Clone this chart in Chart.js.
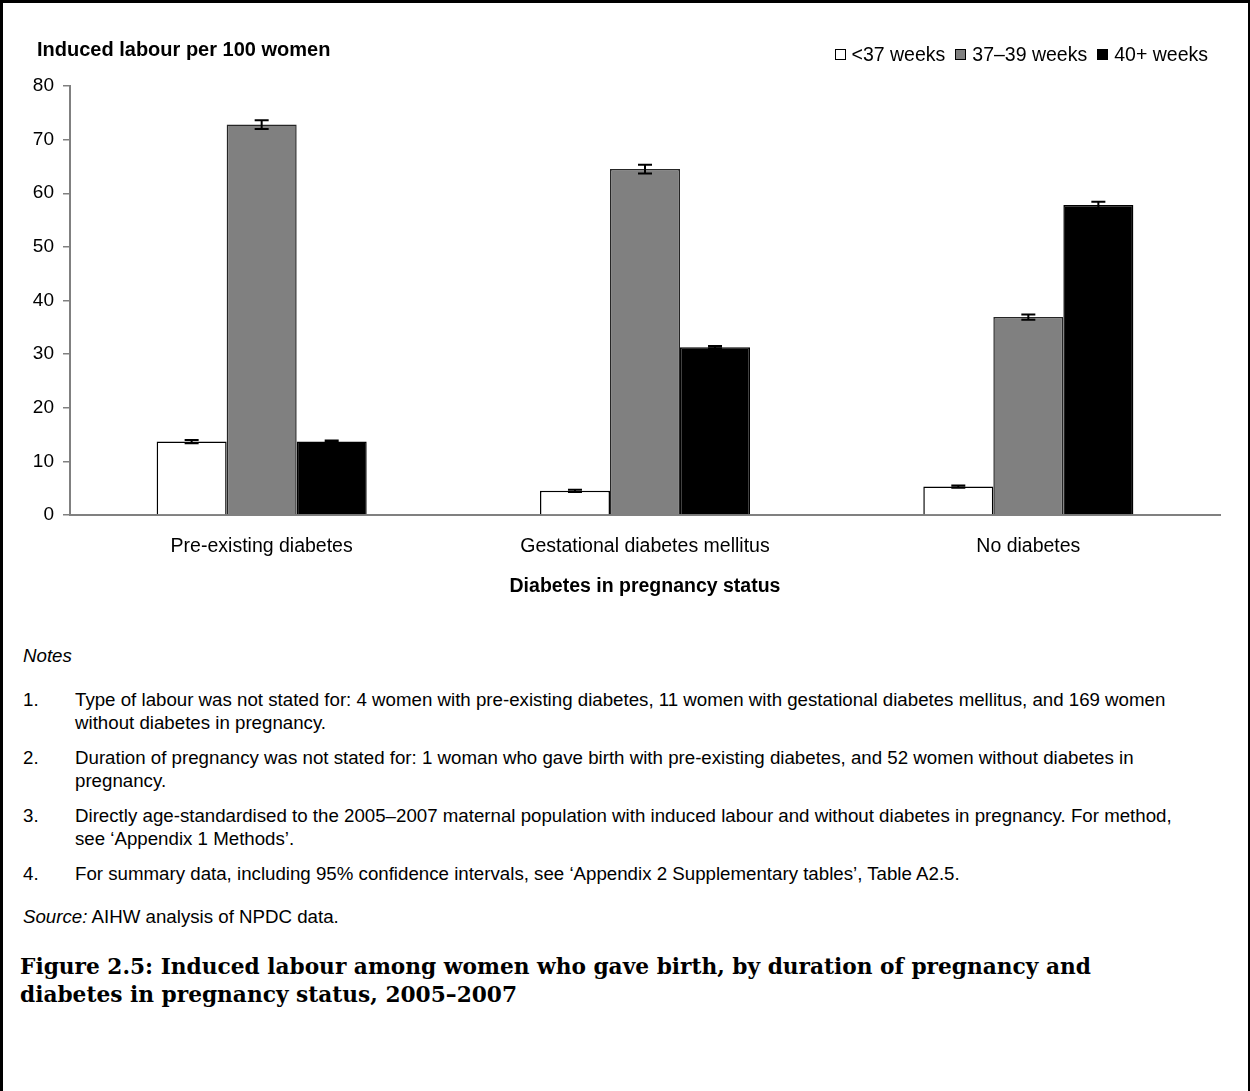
<!DOCTYPE html>
<html>
<head>
<meta charset="utf-8">
<script src="https://cdn.jsdelivr.net/npm/chart.js@4.4.1/dist/chart.umd.min.js"></script>
<style>
  html, body { margin: 0; padding: 0; background: #fff; }
  body { width: 1250px; height: 1091px; position: relative; overflow: hidden;
         font-family: "Liberation Sans", Arial, sans-serif; color: #000; }
  .frame { position: absolute; left: 0; top: 0; width: 1250px; height: 1091px;
           box-sizing: border-box; border-left: 3px solid #000; border-top: 3px solid #000;
           border-right: 2px solid #000; pointer-events: none; }
  #chartWrap { position: absolute; left: 0; top: 0; width: 1250px; height: 620px; }
  .ytitle { position: absolute; left: 37px; top: 38px; font-weight: bold; font-size: 20px; white-space: nowrap; }
  .legend { position: absolute; right: 42px; top: 43px; font-size: 19.5px; white-space: nowrap; display: flex; align-items: center; }
  .legend .item { display: flex; align-items: center; margin-left: 10px; }
  .legend .box { width: 11px; height: 11px; border: 1px solid #000; margin-right: 6px; box-sizing: border-box; }
  .notes { position: absolute; left: 23px; top: 644px; font-size: 18.7px; line-height: 23px; }
  .notes .head { font-style: italic; margin-bottom: 21px; }
  .notes .row { display: flex; margin-bottom: 12px; white-space: nowrap; }
  .notes .num { width: 52px; flex: none; }
  .notes .src { margin-top: 20px; }
  .figtitle { position: absolute; left: 20px; top: 953px; font-family: "DejaVu Serif", serif;
              font-weight: bold; font-size: 21.7px; line-height: 28px; white-space: nowrap; }
</style>
</head>
<body>
<div id="chartWrap"><canvas id="chart" width="1250" height="620"></canvas></div>
<div class="ytitle">Induced labour per 100 women</div>
<div class="legend" id="legend"></div>

<div class="notes">
  <div class="head">Notes</div>
  <div class="row"><div class="num">1.</div><div>Type of labour was not stated for: 4 women with pre-existing diabetes, 11 women with gestational diabetes mellitus, and 169 women<br>without diabetes in pregnancy.</div></div>
  <div class="row"><div class="num">2.</div><div>Duration of pregnancy was not stated for: 1 woman who gave birth with pre-existing diabetes, and 52 women without diabetes in<br>pregnancy.</div></div>
  <div class="row"><div class="num">3.</div><div>Directly age-standardised to the 2005–2007 maternal population with induced labour and without diabetes in pregnancy. For method,<br>see ‘Appendix 1 Methods’.</div></div>
  <div class="row"><div class="num">4.</div><div>For summary data, including 95% confidence intervals, see ‘Appendix 2 Supplementary tables’, Table A2.5.</div></div>
  <div class="src"><i>Source:</i> AIHW analysis of NPDC data.</div>
</div>

<div class="figtitle">Figure 2.5: Induced labour among women who gave birth, by duration of pregnancy and<br>diabetes in pregnancy status, 2005–2007</div>

<div class="frame"></div>

<script>
// Diabetes status groups along the x axis
const categories = ['Pre-existing diabetes', 'Gestational diabetes mellitus', 'No diabetes'];

// Series labels (duration of pregnancy)
const seriesLabels = ['<37 weeks', '37–39 weeks', '40+ weeks'];

// Induced labour per 100 women
const under37 = [13.7, 4.5, 5.3];
const weeks37to39 = [72.8, 64.5, 36.9];
const weeks40plus = [13.7, 31.3, 57.8];

// Half-width of 95% confidence intervals
const under37Ci = [0.3, 0.2, 0.2];
const weeks37to39Ci = [0.8, 0.8, 0.5];
const weeks40plusCi = [0.2, 0.2, 0.6];

// Y axis ticks
const yTicks = [0, 10, 20, 30, 40, 50, 60, 70, 80];

const FONT = '"Liberation Sans", Arial, sans-serif';
const fills = ['#ffffff', '#808080', '#000000'];
const borders = ['#000000', '#262626', '#000000'];
const values = [under37, weeks37to39, weeks40plus];
const cis = [under37Ci, weeks37to39Ci, weeks40plusCi];

// HTML legend
const legendEl = document.getElementById('legend');
seriesLabels.forEach((lab, i) => {
  const it = document.createElement('div');
  it.className = 'item';
  const b = document.createElement('div');
  b.className = 'box';
  b.style.background = fills[i];
  const t = document.createElement('span');
  t.textContent = lab;
  it.appendChild(b); it.appendChild(t);
  legendEl.appendChild(it);
});

// Error bars drawn on top of each bar
const errorBars = {
  id: 'errorBars',
  afterDatasetsDraw(chart) {
    const ctx = chart.ctx;
    const y = chart.scales.y;
    ctx.save();
    ctx.strokeStyle = '#000';
    ctx.lineWidth = 2;
    chart.data.datasets.forEach((ds, di) => {
      const meta = chart.getDatasetMeta(di);
      meta.data.forEach((bar, i) => {
        const v = ds.data[i], e = ds.ci[i];
        const x = bar.x;
        const yHi = y.getPixelForValue(v + e);
        const yLo = y.getPixelForValue(v - e);
        const cap = 7;
        ctx.beginPath();
        ctx.moveTo(x, yHi); ctx.lineTo(x, yLo);
        ctx.moveTo(x - cap, yHi); ctx.lineTo(x + cap, yHi);
        ctx.moveTo(x - cap, yLo); ctx.lineTo(x + cap, yLo);
        ctx.stroke();
      });
    });
    ctx.restore();
  }
};

new Chart(document.getElementById('chart'), {
  type: 'bar',
  data: {
    labels: categories,
    datasets: seriesLabels.map((lab, i) => ({
      label: lab,
      data: values[i],
      ci: cis[i],
      backgroundColor: fills[i],
      borderColor: borders[i],
      borderWidth: 1.5,
      categoryPercentage: 0.548,
      barPercentage: 1.0
    }))
  },
  options: {
    responsive: false,
    animation: false,
    events: [],
    layout: { padding: { left: 0, right: 30, top: 86, bottom: 0 } },
    plugins: { legend: { display: false }, tooltip: { enabled: false } },
    scales: {
      x: {
        grid: { display: false, drawTicks: false },
        border: { display: true, color: '#808080', width: 2 },
        ticks: { color: '#000', font: { family: FONT, size: 19.5 }, padding: 20, maxRotation: 0 },
        title: { display: true, text: 'Diabetes in pregnancy status', color: '#000',
                 font: { family: FONT, size: 19.5, weight: 'bold' }, padding: { top: 0, bottom: 22 } },
        afterFit(scale) { scale.height = 105; }
      },
      y: {
        min: 0, max: 80,
        afterBuildTicks(scale) { scale.ticks = yTicks.map(v => ({ value: v })); },
        grid: { display: true, drawOnChartArea: false, drawTicks: true, tickLength: 7, color: '#808080', lineWidth: 1.5 },
        border: { display: true, color: '#808080', width: 2 },
        ticks: { color: '#000', font: { family: FONT, size: 19 }, padding: 9 },
        afterFit(scale) { scale.width = 70; }
      }
    }
  },
  plugins: [errorBars]
});
</script>
</body>
</html>
